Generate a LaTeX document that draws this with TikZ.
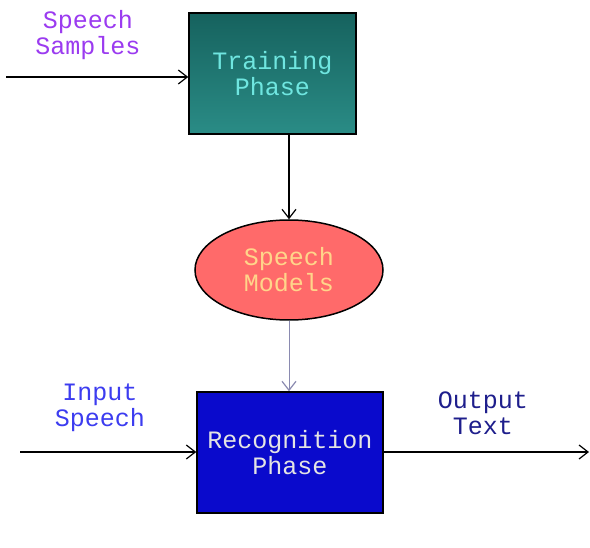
\documentclass[tikz,border=0pt]{standalone}
\usepackage{fontspec}
\setmonofont{Liberation Mono}
\usetikzlibrary{shapes.geometric,arrows.meta}
\definecolor{tealtop}{HTML}{16625E}
\definecolor{tealbot}{HTML}{2A8C86}
\definecolor{teltext}{HTML}{6FE6E0}
\definecolor{salmon}{HTML}{FF6A6A}
\definecolor{modtext}{HTML}{FFD58A}
\definecolor{recblue}{HTML}{0A0ACC}
\definecolor{rectext}{HTML}{E4E4E4}
\definecolor{samptext}{HTML}{9B3BF0}
\definecolor{intext}{HTML}{3C3CF0}
\definecolor{outtext}{HTML}{1E1E8C}
\definecolor{greyline}{HTML}{8A8AB0}
\tikzset{
  lbl/.style={font=\ttfamily\fontsize{25}{26}\selectfont, align=center, inner sep=0pt},
  conn/.style={line width=1.5pt, -{Straight Barb[length=9pt,width=14pt,line width=1.2pt]}},
}
\begin{document}
\begin{tikzpicture}[x=1pt,y=-1pt]
\useasboundingbox (0,0) rectangle (590,548);
\fill[white] (0,0) rectangle (590,548);
% Training box
\node[draw=black, line width=1.5pt, minimum width=167pt, minimum height=121pt, inner sep=0pt,
      top color=tealtop, bottom color=tealbot] (train) at (272.5,73.5) {};
\node[lbl, text=teltext] (traint) at (train.center) {Training\\Phase};
% Ellipse
\node[ellipse, draw=black, line width=1.5pt, fill=salmon, minimum width=188pt, minimum height=100pt, inner sep=0pt] (models) at (289,270) {};
\node[lbl, text=modtext] (modelst) at (models.center) {Speech\\Models};
% Recognition box
\node[draw=black, line width=1.5pt, fill=recblue, minimum width=186pt, minimum height=121pt, inner sep=0pt] (rec) at (290,452.5) {};
\node[lbl, text=rectext] (rect) at (rec.center) {Recognition\\Phase};
% labels
\node[lbl, text=samptext] (samp) at (88,35) {Speech\\Samples};
\node[lbl, text=intext] (inp) at (100,408) {Input\\Speech};
\node[lbl, text=outtext] (outp) at (483,413) {Output\\Text};
% coordinates
\coordinate (s0) at (6,77);
\coordinate (i0) at (20,452);
\coordinate (o1) at (589,452);
% connectors
\draw[conn] (s0) -- (s0 -| train.west);
\draw[conn] (train.south -| models.north) -- (models.north);
\draw[conn, greyline, line width=1pt] (models.south) -- (rec.north -| models.south);
\draw[conn] (i0) -- (i0 -| rec.west);
\draw[conn] (rec.east |- o1) -- (o1);
\end{tikzpicture}
\end{document}
